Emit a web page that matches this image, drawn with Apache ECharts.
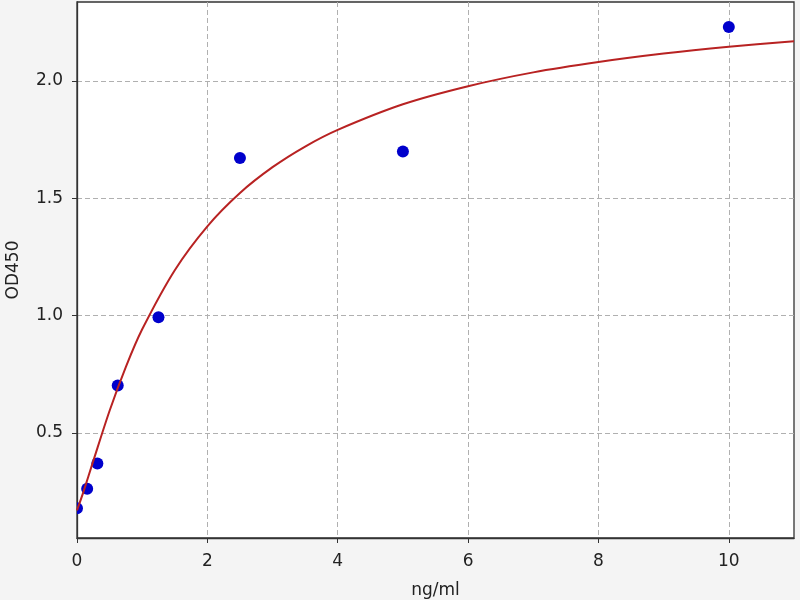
<!DOCTYPE html>
<html>
<head>
<meta charset="utf-8">
<script src="https://cdn.jsdelivr.net/npm/echarts@6/dist/echarts.min.js"></script>
<style>html,body{margin:0;padding:0;background:#f4f4f4;}#c{width:800px;height:600px;}</style>
</head>
<body>
<div id="c"></div>
<script>
// Standard points (ng/ml, OD450)
const pointX = [0, 0.156, 0.3125, 0.625, 1.25, 2.5, 5, 10];
const pointY = [0.179, 0.262, 0.370, 0.702, 0.993, 1.672, 1.700, 2.230];
// Fitted curve
const curveX = [0, 0.1, 0.25, 0.5, 0.75, 1, 1.5, 2, 2.5, 3, 3.5, 4, 5, 6, 7, 8, 9, 10, 11];
const curveY = [0.17, 0.25, 0.381, 0.595, 0.782, 0.942, 1.194, 1.381, 1.523, 1.633, 1.721, 1.792, 1.901, 1.978, 2.037, 2.081, 2.117, 2.146, 2.17];
const xTicks = [0, 2, 4, 6, 8, 10];
const yTicks = [0.5, 1.0, 1.5, 2.0];

const chart = echarts.init(document.getElementById('c'));
const labelStyle = {color: '#222', fontSize: 17, fontFamily: 'DejaVu Sans'};
chart.setOption({
  backgroundColor: '#f4f4f4',
  animation: false,
  grid: {left: 77, right: 6, top: 2, bottom: 62, show: true, backgroundColor: '#fff', borderColor: '#333', borderWidth: 1.3, outerBoundsMode: 'none', containLabel: false},
  xAxis: {
    type: 'value', min: 0, max: 11,
    name: 'ng/ml', nameLocation: 'middle', nameGap: 44,
    nameTextStyle: labelStyle,
    axisLine: {show: true, onZero: false, lineStyle: {color: '#333', width: 1.3}},
    axisTick: {show: true, length: 5, customValues: xTicks, lineStyle: {color: '#333'}},
    axisLabel: Object.assign({customValues: xTicks, margin: 15, formatter: v => String(v)}, labelStyle),
    splitLine: {show: true, lineStyle: {color: '#b0b0b0', type: [5, 3], width: 1}}
  },
  yAxis: {
    type: 'value', min: 0.0525, max: 2.337,
    name: 'OD450', nameLocation: 'middle', nameGap: 55,
    nameTextStyle: labelStyle,
    axisLine: {show: true, onZero: false, lineStyle: {color: '#333', width: 1.3}},
    axisTick: {show: true, length: 5, customValues: yTicks, lineStyle: {color: '#333'}},
    axisLabel: Object.assign({customValues: yTicks, margin: 14, formatter: v => v.toFixed(1)}, labelStyle),
    splitLine: {show: true, lineStyle: {color: '#b0b0b0', type: [5, 3], width: 1}}
  },
  series: [
    {
      type: 'custom', clip: true, z: 2,
      data: pointX.map((x, i) => [x, pointY[i]]),
      renderItem: function (params, api) {
        const p = api.coord([api.value(0), api.value(1)]);
        return {type: 'circle', shape: {cx: p[0], cy: p[1], r: 6}, style: {fill: '#0000cc'}};
      }
    },
    {
      type: 'line', data: curveX.map((x, i) => [x, curveY[i]]),
      smooth: 0.3, showSymbol: false, symbol: 'none',
      lineStyle: {color: '#b82222', width: 2}, z: 3
    }
  ]
});
</script>
</body>
</html>
